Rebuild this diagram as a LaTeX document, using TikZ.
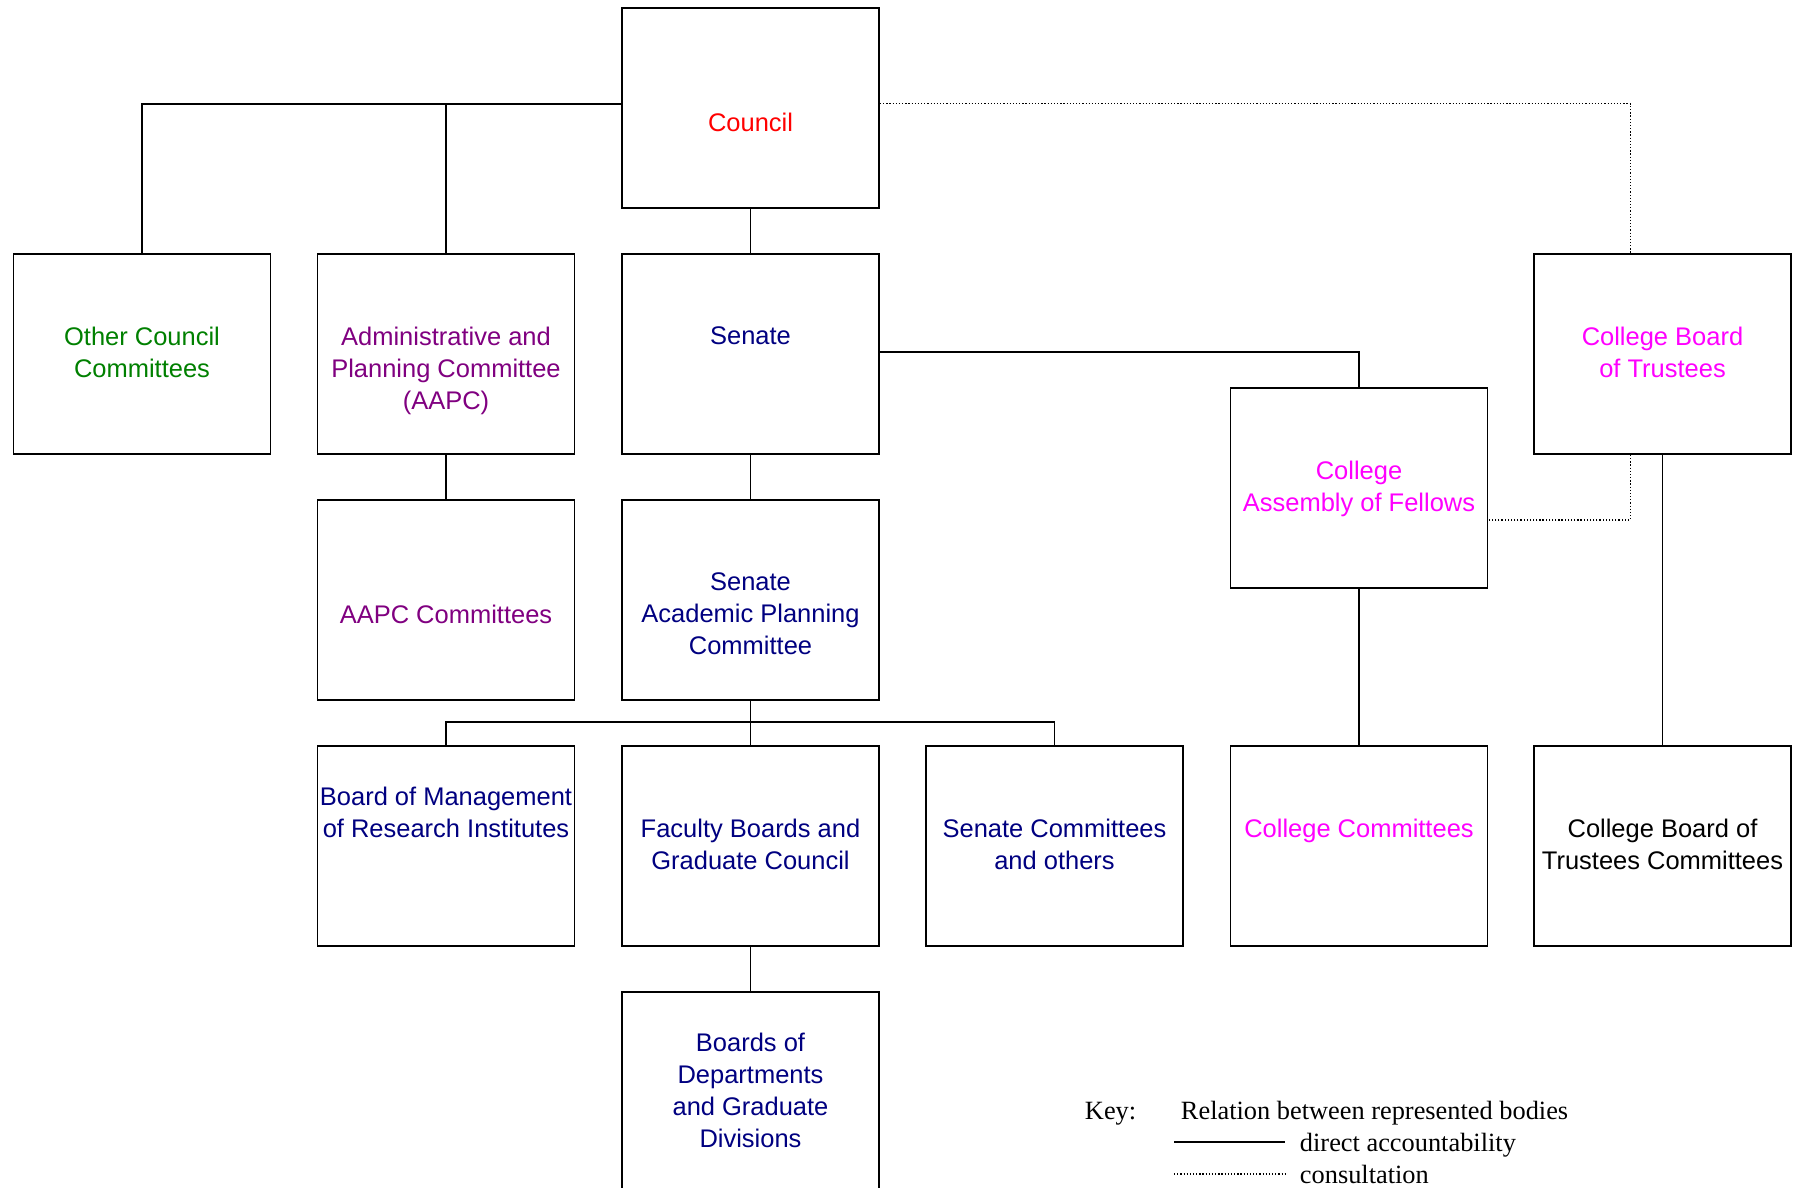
\documentclass[tikz,border=0pt]{standalone}
\usepackage{fontspec}
\setmainfont{Liberation Sans}
\newfontfamily\keyfont{Liberation Serif}
\usetikzlibrary{positioning}
\definecolor{councilred}{RGB}{255,0,0}
\definecolor{ccgreen}{RGB}{0,128,0}
\definecolor{aapcpurple}{RGB}{128,0,128}
\definecolor{senatenavy}{RGB}{0,0,128}
\definecolor{collegepink}{RGB}{255,0,255}

\begin{document}
\begin{tikzpicture}[line width=1.1pt,
  body/.style={draw, minimum width=5.14cm, minimum height=4cm, inner sep=0pt},
  words/.style={align=center, inner sep=0pt, font=\fontsize{14.5}{18.2}\selectfont},
  consult/.style={line width=0.7pt, dash pattern=on 0.7pt off 1.1pt},
  keytext/.style={anchor=base west, inner sep=0pt, font=\keyfont\fontsize{15}{18}\selectfont}]
\clip (0,0) rectangle (35.96,-23.76);

% the bodies
\node[body] (council) at (15.01,-2.16) {};
\node[body] (other) at (2.84,-7.08) {};
\node[body] (aapc) at (8.92,-7.08) {};
\node[body] (senate) at (15.01,-7.08) {};
\node[body] (cbt) at (33.25,-7.08) {};
\node[body] (assembly) at (27.18,-9.76) {};
\node[body] (aapccom) at (8.92,-12.0) {};
\node[body] (sapc) at (15.01,-12.0) {};
\node[body] (research) at (8.92,-16.92) {};
\node[body] (faculty) at (15.01,-16.92) {};
\node[body] (sencom) at (21.09,-16.92) {};
\node[body] (colcom) at (27.18,-16.92) {};
\node[body] (cbtcom) at (33.25,-16.92) {};
\node[body] (depts) at (15.01,-21.84) {};

\node[words, text=councilred, below=2.10cm of council.north] (councilname) {Council};
\node[words, text=ccgreen, below=1.46cm of other.north] (othername) {Other Council\\Committees};
\node[words, text=aapcpurple, below=1.46cm of aapc.north] (aapcname) {Administrative and\\Planning Committee\\(AAPC)};
\node[words, text=senatenavy, below=1.46cm of senate.north] (senatename) {Senate};
\node[words, text=collegepink, below=1.46cm of cbt.north] (cbtname) {College Board\\of Trustees};
\node[words, text=collegepink, below=1.46cm of assembly.north] (assemblyname) {College\\Assembly of Fellows};
\node[words, text=aapcpurple, below=2.10cm of aapccom.north] (aapccomname) {AAPC Committees};
\node[words, text=senatenavy, below=1.46cm of sapc.north] (sapcname) {Senate\\Academic Planning\\Committee};
\node[words, text=senatenavy, below=0.82cm of research.north] (researchname) {Board of Management\\of Research Institutes};
\node[words, text=senatenavy, below=1.46cm of faculty.north] (facultyname) {Faculty Boards and\\Graduate Council};
\node[words, text=senatenavy, below=1.46cm of sencom.north] (sencomname) {Senate Committees\\and others};
\node[words, text=collegepink, below=1.46cm of colcom.north] (colcomname) {College Committees};
\node[words, below=1.46cm of cbtcom.north] (cbtcomname) {College Board of\\Trustees Committees};
\node[words, text=senatenavy, below=0.82cm of depts.north] (deptsname) {Boards of\\Departments\\and Graduate\\Divisions};

% direct accountability
\coordinate (cleft) at ([yshift=0.086cm]council.west);
\coordinate (cright) at ([yshift=0.086cm]council.east);
\draw (cleft) -| (other.north);
\draw (aapc.north) -- (aapc.north |- cleft);
\draw (council.south) -- (senate.north);
\draw (aapc.south) -- (aapccom.north);
\draw (senate.south) -- (sapc.north);
\draw ([yshift=0.04cm]senate.east) -| (assembly.north);
\draw (sapc.south) -- (faculty.north);
\draw (research.north) -- ++(0,0.47) -| (sencom.north);
\draw (faculty.south) -- (depts.north);
\draw (assembly.south) -- (colcom.north);
\draw (cbt.south) -- (cbtcom.north);

% consultation
\draw[consult] (cright) -| ([xshift=-0.64cm]cbt.north);
\draw[consult] ([xshift=-0.64cm]cbt.south) |- ([yshift=-0.64cm]assembly.east);

% key
\node[keytext] (keyhead) at (21.68,-22.38) {Key:};
\node[keytext] (relation) at (23.6,-22.38) {Relation between represented bodies};
\node[keytext] (direct) at (25.98,-23.02) {direct accountability};
\node[keytext] (consultation) at (25.98,-23.66) {consultation};
\coordinate (solidstart) at (23.48,-22.84);
\coordinate (dotstart) at (23.48,-23.48);
\draw (solidstart) -- ([xshift=-0.28cm]solidstart -| direct.west);
\draw[consult] (dotstart) -- ([xshift=-0.28cm]dotstart -| consultation.west);
\end{tikzpicture}
\end{document}
